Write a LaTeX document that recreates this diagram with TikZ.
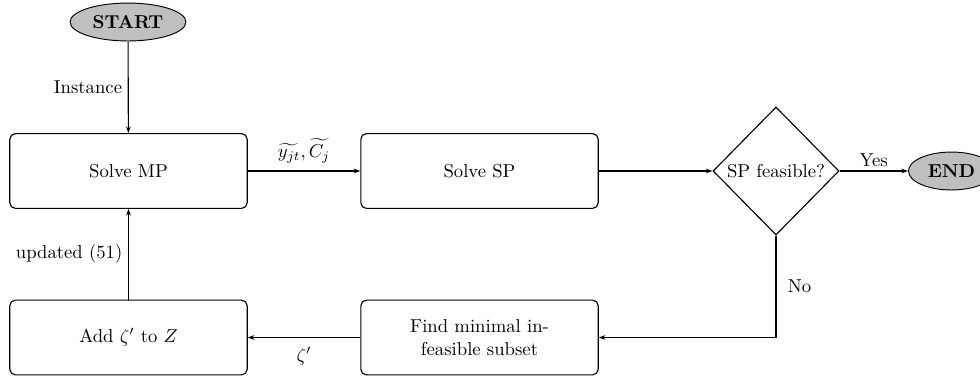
\documentclass[tikz,border=0pt]{standalone}
\usetikzlibrary{shapes.geometric,arrows.meta}
\begin{document}
\begin{tikzpicture}[x=0.535pt,y=-0.535pt,
  every node/.style={font=\normalsize},
  term/.style={ellipse,draw,fill=gray!50,line width=0.5pt,inner sep=0pt,minimum height=20.3pt,font=\bfseries},
  proc/.style={rectangle,draw,rounded corners=3pt,line width=0.6pt,minimum width=127pt,minimum height=40pt,align=center},
  dec/.style={diamond,draw,line width=0.6pt,inner sep=0pt,minimum width=67.4pt,minimum height=68.5pt},
  flow/.style={line width=0.6pt,-{Stealth[length=3.5pt,width=2.5pt]}},
  lbl/.style={inner sep=1pt}]
\useasboundingbox (0,0) rectangle (980,378);
\node[term,minimum width=62pt] (start) at (128,22) {START};
\node[proc] (mp) at (128.5,171) {Solve MP};
\node[proc] (sp) at (479.5,171) {Solve SP};
\node[dec] (dec) at (776,171) {SP feasible?};
\node[term,minimum width=46pt,anchor=west] (end) at (908,171) {END};
\node[proc] (find) at (479.5,337.5) {Find minimal in-\\feasible subset};
\node[proc] (add) at (128.5,337.5) {Add $\zeta'$ to $Z$};
\coordinate (corner) at (776,337.5);
\draw[flow] (start) -- node[lbl,left=2pt] {Instance} (mp);
\draw[flow] (mp) -- node[lbl,above=3pt] {$\widetilde{y_{jt}},\widetilde{C_j}$} (sp);
\draw[flow] (sp) -- (dec);
\draw[flow] (dec) -- node[lbl,above=1pt] {Yes} (end);
\draw[flow] (dec.south) -- node[lbl,right=5pt,pos=0.5] {No} (corner) -- (find);
\draw[flow] (find) -- node[lbl,below=4pt] {$\zeta'$} (add);
\draw[flow] (add) -- node[lbl,left=2pt] {updated (51)} (mp);
\end{tikzpicture}
\end{document}
